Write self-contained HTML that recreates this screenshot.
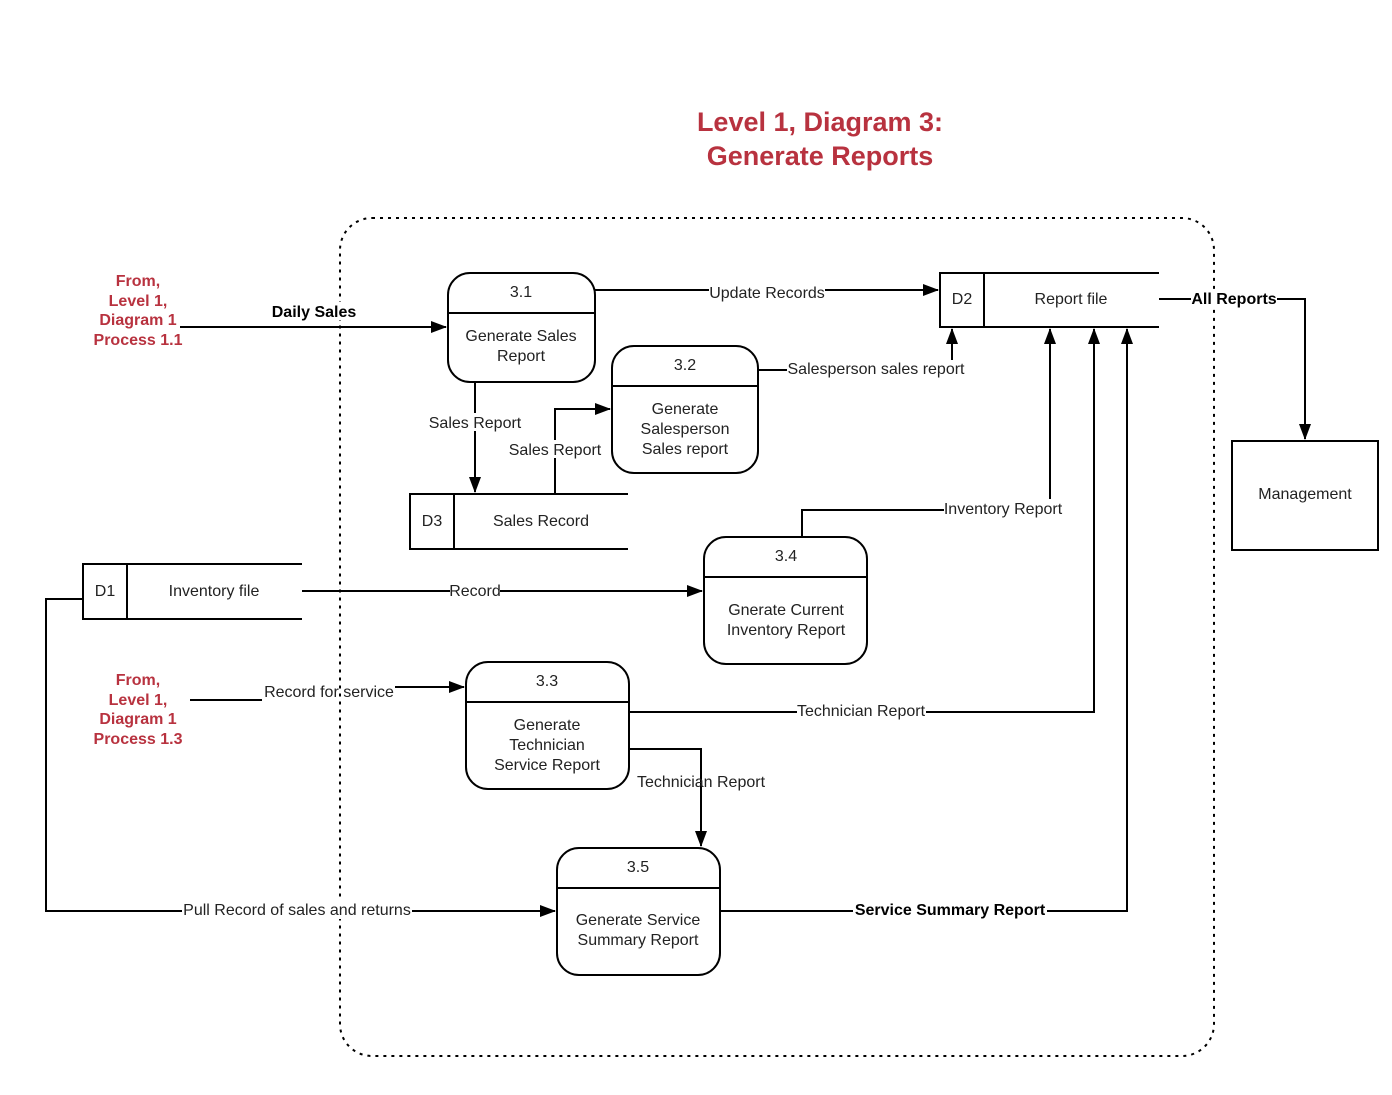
<!DOCTYPE html>
<html><head><meta charset="utf-8"><style>
html,body{margin:0;padding:0;background:#fff}
svg{display:block}
text{font-family:"Liberation Sans",sans-serif;font-size:16px;fill:#222}
.r{fill:#b8323f;font-weight:bold}
.b{font-weight:bold;fill:#000}
</style></head><body>
<svg width="1392" height="1095" viewBox="0 0 1392 1095" xmlns="http://www.w3.org/2000/svg">
<defs><marker id="a" markerWidth="16" markerHeight="12" refX="15" refY="6" orient="auto" markerUnits="userSpaceOnUse"><path d="M0,0 L16,6 L0,12 z" fill="#000"/></marker></defs>
<text x="820" y="131" text-anchor="middle" class="r" style="font-size:27px">Level 1, Diagram 3:</text>
<text x="820" y="165" text-anchor="middle" class="r" style="font-size:27px">Generate Reports</text>
<rect x="340" y="218" width="874" height="838" rx="32" fill="none" stroke="#000" stroke-width="2" stroke-dasharray="3,5"/>
<g fill="none" stroke="#000" stroke-width="2">
<rect x="448" y="273" width="147" height="109" rx="22"/><line x1="448" y1="313" x2="595" y2="313"/>
<rect x="612" y="346" width="146" height="127" rx="22"/><line x1="612" y1="386" x2="758" y2="386"/>
<rect x="704" y="537" width="163" height="127" rx="22"/><line x1="704" y1="577" x2="867" y2="577"/>
<rect x="466" y="662" width="163" height="127" rx="22"/><line x1="466" y1="702" x2="629" y2="702"/>
<rect x="557" y="848" width="163" height="127" rx="22"/><line x1="557" y1="888" x2="720" y2="888"/>
<rect x="1232" y="441" width="146" height="109"/>
<path d="M1159,273 H940 V327 H1159 M984,273 V327"/>
<path d="M628,494 H410 V549 H628 M454,494 V549"/>
<path d="M302,564 H83 V619 H302 M127,564 V619"/>
</g>
<g fill="none" stroke="#000" stroke-width="2" marker-end="url(#a)">
<path d="M180,327 H446"/>
<path d="M595,290 H938"/>
<path d="M1159,299 H1305 V439"/>
<path d="M758,370 H952 V329"/>
<path d="M475,382 V492"/>
<path d="M555,494 V409 H610"/>
<path d="M802,537 V510 H1050 V329"/>
<path d="M302,591 H702"/>
<path d="M190,700 H262 M395,687 H464"/>
<path d="M629,712 H1094 V329"/>
<path d="M629,749 H701 V846"/>
<path d="M83,599 H46 V911 H555"/>
<path d="M720,911 H1127 V329"/>
</g>
<g>
<rect x="272" y="302" width="84" height="18" fill="#fff"/><text x="314" y="317" text-anchor="middle" class="b">Daily Sales</text>
<rect x="709" y="283" width="116" height="18" fill="#fff"/><text x="767" y="298" text-anchor="middle">Update Records</text>
<rect x="1191" y="290" width="86" height="18" fill="#fff"/><text x="1234" y="304" text-anchor="middle" class="b">All Reports</text>
<rect x="787" y="360" width="179" height="18" fill="#fff"/><text x="876" y="374" text-anchor="middle">Salesperson sales report</text>
<rect x="428" y="413" width="94" height="18" fill="#fff"/><text x="475" y="428" text-anchor="middle">Sales Report</text>
<rect x="508" y="440" width="94" height="18" fill="#fff"/><text x="555" y="455" text-anchor="middle">Sales Report</text>
<rect x="944" y="499" width="118" height="18" fill="#fff"/><text x="1003" y="514" text-anchor="middle">Inventory Report</text>
<rect x="450" y="582" width="50" height="18" fill="#fff"/><text x="475" y="596" text-anchor="middle">Record</text>
<text x="329" y="697" text-anchor="middle">Record for service</text>
<rect x="797" y="702" width="129" height="18" fill="#fff"/><text x="861" y="716" text-anchor="middle">Technician Report</text>
<text x="701" y="787" text-anchor="middle">Technician Report</text>
<rect x="182" y="901" width="230" height="18" fill="#fff"/><text x="297" y="915" text-anchor="middle">Pull Record of sales and returns</text>
<rect x="853" y="901" width="194" height="18" fill="#fff"/><text x="950" y="915" text-anchor="middle" class="b">Service Summary Report</text>
</g>
<g text-anchor="middle">
<text x="138" y="286" class="r">From,</text><text x="138" y="306" class="r">Level 1,</text><text x="138" y="325" class="r">Diagram 1</text><text x="138" y="345" class="r">Process 1.1</text>
<text x="138" y="685" class="r">From,</text><text x="138" y="705" class="r">Level 1,</text><text x="138" y="724" class="r">Diagram 1</text><text x="138" y="744" class="r">Process 1.3</text>
</g>
<g text-anchor="middle">
<text x="521" y="297">3.1</text><text x="521" y="341">Generate Sales</text><text x="521" y="361">Report</text>
<text x="685" y="370">3.2</text><text x="685" y="414">Generate</text><text x="685" y="434">Salesperson</text><text x="685" y="454">Sales report</text>
<text x="786" y="561">3.4</text><text x="786" y="615">Gnerate Current</text><text x="786" y="635">Inventory Report</text>
<text x="547" y="686">3.3</text><text x="547" y="730">Generate</text><text x="547" y="750">Technician</text><text x="547" y="770">Service Report</text>
<text x="638" y="872">3.5</text><text x="638" y="925">Generate Service</text><text x="638" y="945">Summary Report</text>
<text x="962" y="304">D2</text><text x="1071" y="304">Report file</text>
<text x="432" y="526">D3</text><text x="541" y="526">Sales Record</text>
<text x="105" y="596">D1</text><text x="214" y="596">Inventory file</text>
<text x="1305" y="499">Management</text>
</g>
</svg>
</body></html>
